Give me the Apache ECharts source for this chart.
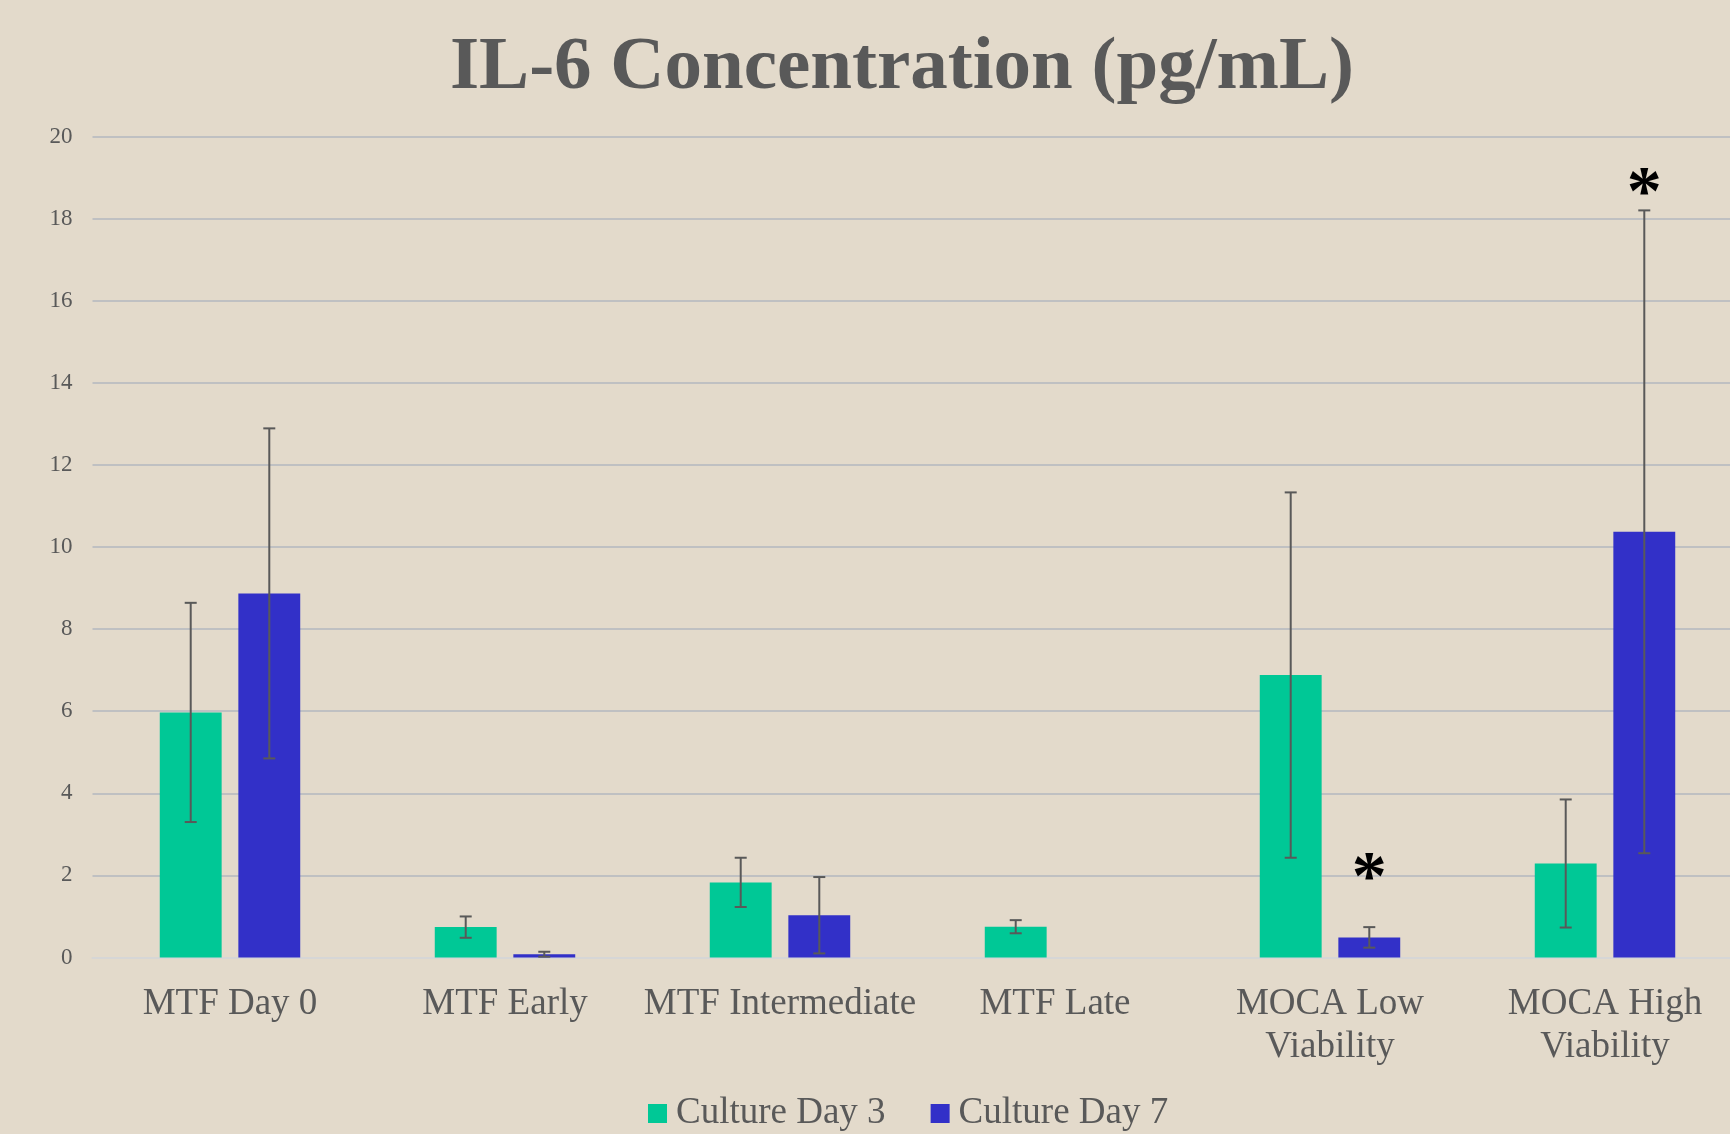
<!DOCTYPE html>
<html>
<head>
<meta charset="utf-8">
<script src="https://cdn.jsdelivr.net/npm/echarts@6/dist/echarts.min.js"></script>
<style>
  html, body { margin: 0; padding: 0; overflow: hidden; background: #E3DACB; }
  /* plot runs a little past the right edge, as in the source */
  #chart { width: 1743px; height: 1134px; }
</style>
</head>
<body>
<div id="chart"></div>
<script>
  // data
  const categories = ['MTF Day 0', 'MTF Early', 'MTF Intermediate', 'MTF Late', 'MOCA Low\nViability', 'MOCA High\nViability'];
  const day3 = [5.97, 0.74, 1.83, 0.75, 6.88, 2.29];
  const day3Err = [2.67, 0.26, 0.6, 0.16, 4.45, 1.56];
  const day7 = [8.87, 0.08, 1.03, 0, 0.49, 10.37];
  const day7Err = [4.02, 0.06, 0.93, 0, 0.25, 7.83];
  const day7Stars = [null, null, null, null, 2.2, 18.9];
  const yTicks = [0, 20, 2]; // min, max, step

  const txt = '#595959';
  const serif = '"Liberation Serif", "Times New Roman", serif';
  const BAR_W = 0.225;   // share of category band
  const BAR_GAP = 0.27;  // share of bar width

  const myChart = echarts.init(document.getElementById('chart'));

  // offset of a bar centre from the category centre, in px
  function barOffset(api, side) {
    const band = api.size([1, 0])[0];
    const w = band * BAR_W;
    return side * (w + w * BAR_GAP) / 2;
  }

  function errorBars(name, vals, errs, side) {
    return {
      type: 'custom',
      name: name,
      z: 10,
      silent: true,
      encode: { x: 0, y: 1 },
      data: vals.map((v, i) => [i, v, errs[i]]),
      renderItem: function (params, api) {
        const e = api.value(2);
        if (!e) return;
        const i = api.value(0), v = api.value(1);
        const x = api.coord([i, v])[0] + barOffset(api, side);
        const top = api.coord([i, v + e])[1];
        const bot = api.coord([i, Math.max(v - e, 0)])[1];
        const cap = 6;
        const st = { stroke: txt, lineWidth: 2 };
        return {
          type: 'group',
          children: [
            { type: 'line', shape: { x1: x, y1: top, x2: x, y2: bot }, style: st },
            { type: 'line', shape: { x1: x - cap, y1: top, x2: x + cap, y2: top }, style: st },
            { type: 'line', shape: { x1: x - cap, y1: bot, x2: x + cap, y2: bot }, style: st }
          ]
        };
      }
    };
  }

  function stars(name, vals, side) {
    return {
      type: 'custom',
      name: name,
      z: 11,
      silent: true,
      encode: { x: 0, y: 1 },
      data: vals.map((v, i) => [i, v]).filter(d => d[1] != null),
      renderItem: function (params, api) {
        const p = api.coord([api.value(0), api.value(1)]);
        return {
          type: 'text',
          x: p[0] + barOffset(api, side),
          y: p[1] + 14,
          style: {
            text: '*',
            font: 'bold 70px ' + serif,
            fill: '#000',
            align: 'center',
            verticalAlign: 'middle'
          }
        };
      }
    };
  }

  myChart.setOption({
    backgroundColor: '#E3DACB',
    animation: false,
    graphic: [{
      type: 'text',
      x: 902,
      y: 69,
      style: {
        text: 'IL-6 Concentration (pg/mL)',
        font: 'bold 75px ' + serif,
        fill: txt,
        align: 'center',
        verticalAlign: 'middle'
      }
    }],
    legend: {
      data: ['Culture Day 3', 'Culture Day 7'],
      left: 643,
      top: 1090,
      icon: 'rect',
      itemWidth: 19,
      itemHeight: 19,
      itemGap: 45,
      textStyle: { color: txt, fontSize: 37, fontFamily: serif, padding: [0, 0, 0, 4] }
    },
    grid: {
      left: 92.5,
      top: 136.5,
      width: 1650,
      height: 821
    },
    xAxis: {
      type: 'category',
      data: categories,
      axisTick: { show: false },
      axisLine: { lineStyle: { color: '#D6D6D6', width: 2 } },
      axisLabel: {
        interval: 0,
        margin: 25,
        color: txt,
        fontSize: 37,
        lineHeight: 43,
        fontFamily: serif
      }
    },
    yAxis: {
      type: 'value',
      min: yTicks[0],
      max: yTicks[1],
      interval: yTicks[2],
      axisLine: { show: false },
      axisTick: { show: false },
      axisLabel: { color: txt, fontSize: 23, fontFamily: serif, margin: 20 },
      splitLine: { showMinLine: false, lineStyle: { color: '#BFC0C2', width: 2 } }
    },
    series: [
      {
        name: 'Culture Day 3',
        type: 'bar',
        barWidth: (BAR_W * 100) + '%',
        barGap: (BAR_GAP * 100) + '%',
        itemStyle: { color: '#00C896' },
        data: day3
      },
      {
        name: 'Culture Day 7',
        type: 'bar',
        barWidth: (BAR_W * 100) + '%',
        barGap: (BAR_GAP * 100) + '%',
        itemStyle: { color: '#3230C8' },
        data: day7
      },
      errorBars('err3', day3, day3Err, -1),
      errorBars('err7', day7, day7Err, 1),
      stars('sig7', day7Stars, 1)
    ]
  });

  window.addEventListener('resize', () => {
    myChart && myChart.resize();
  });
</script>
</body>
</html>
